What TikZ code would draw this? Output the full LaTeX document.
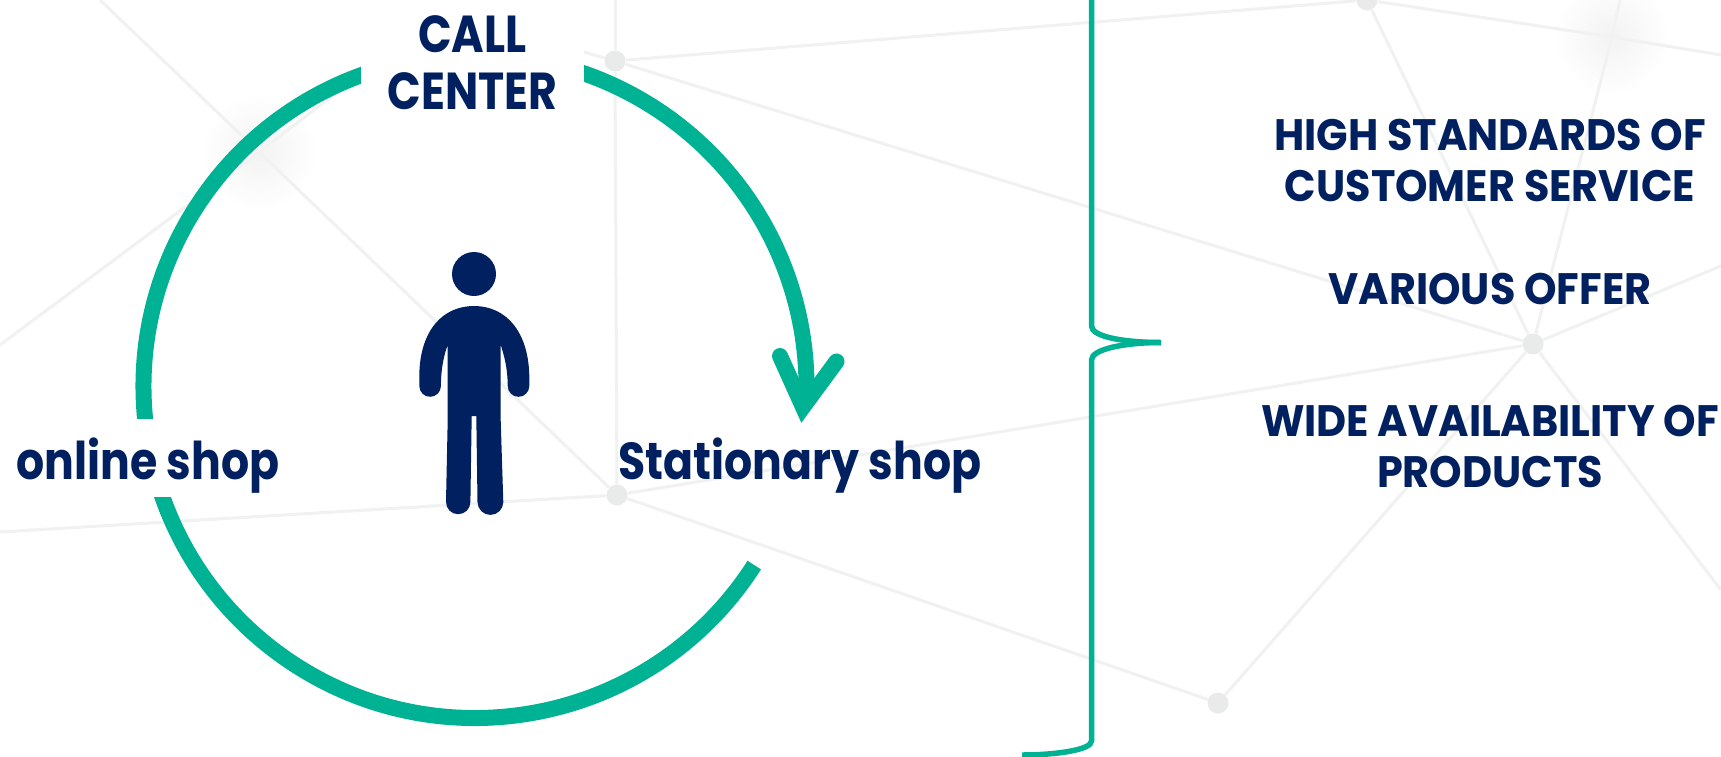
\documentclass[tikz,border=0pt]{standalone}
\usepackage{fontspec}
\setmainfont{Poppins}
\newfontfamily\bigfont{Poppins}[FakeStretch=0.85]
\newfontfamily\sidefont{Poppins}[FakeStretch=0.94]
\usetikzlibrary{calc,fadings}
\definecolor{teal}{HTML}{00B294}
\definecolor{navy}{HTML}{002060}
\definecolor{netgray}{HTML}{F0F1F1}
\definecolor{dotgray}{HTML}{E9EBEA}
\definecolor{glowgray}{HTML}{F3F3F3}
\tikzfading[name=glowfade, inner color=transparent!0, outer color=transparent!100]
\tikzset{
  netline/.style={draw=netgray, line width=1.5pt},
  netdot/.style={circle, fill=dotgray, inner sep=0pt, minimum size=10.5pt},
  glow/.style={circle, fill=glowgray, inner sep=0pt, minimum size=56pt, path fading=glowfade},
  ring/.style={draw=teal, line width=8pt},
  brace/.style={draw=teal, line width=2.75pt},
  bigtext/.style={text=navy, inner sep=0pt, align=center, font=\fontsize{26}{28.5}\bigfont\bfseries},
  shoptext/.style={bigtext, text height=30pt, text depth=8.7pt},
  sidetext/.style={text=navy, inner sep=0pt, align=center, font=\fontsize{22}{25.5}\sidefont\bfseries}
}
\begin{document}
\begin{tikzpicture}[x=0.5pt, y=-0.5pt]
  \useasboundingbox (0,0) rectangle (1721,756);
  \clip (0,0) rectangle (1721,756);
  \fill[white] (0,0) rectangle (1721,756);
  % background net
  \node[netdot] (na) at (615,61) {};
  \node[netdot] (nb) at (1367,0) {};
  \node[netdot] (nc) at (617,495) {};
  \node[netdot] (nd) at (1533,344) {};
  \node[netdot] (ne) at (1218,703) {};
  \coordinate (gl) at (259,152);
  \coordinate (gr) at (1612,37);
  \coordinate (e1) at (100,0);
  \coordinate (e2) at (0,345);
  \coordinate (e3) at (400,44);
  \coordinate (e4) at (500,28);
  \coordinate (e5) at (615,0);
  \coordinate (e6) at (0,532);
  \coordinate (e7) at (1620,0);
  \coordinate (e8) at (1721,55);
  \coordinate (e9) at (1721,266);
  \coordinate (e10) at (1721,590);
  \draw[netline] (e1) -- (gl);
  \draw[netline] (e2) -- (gl);
  \draw[netline] (gl) -- (e3);
  \draw[netline] (gl) -- (nc);
  \draw[netline] (e4) -- (na);
  \draw[netline] (e5) -- (na);
  \draw[netline] (na) -- (nb);
  \draw[netline] (na) -- (nc);
  \draw[netline] (na) -- (nd);
  \draw[netline] (e6) -- (nc);
  \draw[netline] (nc) -- (nd);
  \draw[netline] (nc) -- (ne);
  \draw[netline] (ne) -- (nd);
  \draw[netline] (nb) -- (nd);
  \draw[netline] (nb) -- (gr);
  \draw[netline] (gr) -- (e7);
  \draw[netline] (gr) -- (e8);
  \draw[netline] (gr) -- (nd);
  \draw[netline] (nd) -- (e9);
  \draw[netline] (nd) -- (e10);
  \node[glow] (glowl) at (gl) {};
  \node[glow] (glowr) at (gr) {};
  % ring with arrow
  \coordinate (hub) at (475,386.5);
  \coordinate (ringstart) at ($(hub)+(32.6:331.5)$);
  \coordinate (tipl) at (780,356);
  \coordinate (tip) at (803,407);
  \coordinate (tipr) at (836.5,361.5);
  \draw[ring] (ringstart) arc[start angle=32.6, end angle=363, radius=331.5];
  \draw[ring, line cap=round, line join=miter, miter limit=10] (tipl) -- (tip) -- (tipr);
  % labels
  \node[bigtext, fill=white, minimum width=111.5pt, minimum height=63pt] (call) at (472.5,63) {CALL\\CENTER};
  \node[shoptext, fill=white] (online) at (148,458) {online shop};
  \node[shoptext] (stationary) at (800,458) {Stationary shop};
  \node[sidetext] (high) at (1490,160) {HIGH STANDARDS OF\\CUSTOMER SERVICE};
  \node[sidetext] (various) at (1490,289) {VARIOUS OFFER};
  \node[sidetext] (wide) at (1490,446) {WIDE AVAILABILITY OF\\PRODUCTS};
  % person
  \fill[navy] (474,274) circle[radius=22];
  \fill[navy] (474,306) .. controls (443,306) and (420,330) .. (419.3,375) -- (419.3,386)
    arc[start angle=180, end angle=0, radius=10.8] .. controls (441,368) and (444,355) .. (447.7,345)
    -- (447.7,420) -- (446,502) arc[start angle=180, end angle=0, radius=12.2]
    -- (471.7,416) -- (476.3,416) -- (477.5,502) arc[start angle=180, end angle=0, radius=12.9]
    -- (500.7,420) -- (500.7,345) .. controls (504,355) and (507.7,368) .. (507.7,386)
    arc[start angle=180, end angle=0, radius=10.8] -- (529.3,375)
    .. controls (528,330) and (505,306) .. (474,306) -- cycle;
  % brace
  \coordinate (bracetip) at (1161,342.5);
  \draw[brace] (1091.5,-5) -- (1091.5,326) .. controls (1091.5,337) and (1125,342.5) .. (bracetip);
  \draw[brace] (bracetip) .. controls (1125,342.5) and (1091.5,349) .. (1091.5,360)
    -- (1091.5,741) .. controls (1091.5,750) and (1055,755) .. (1022,755);
\end{tikzpicture}
\end{document}
